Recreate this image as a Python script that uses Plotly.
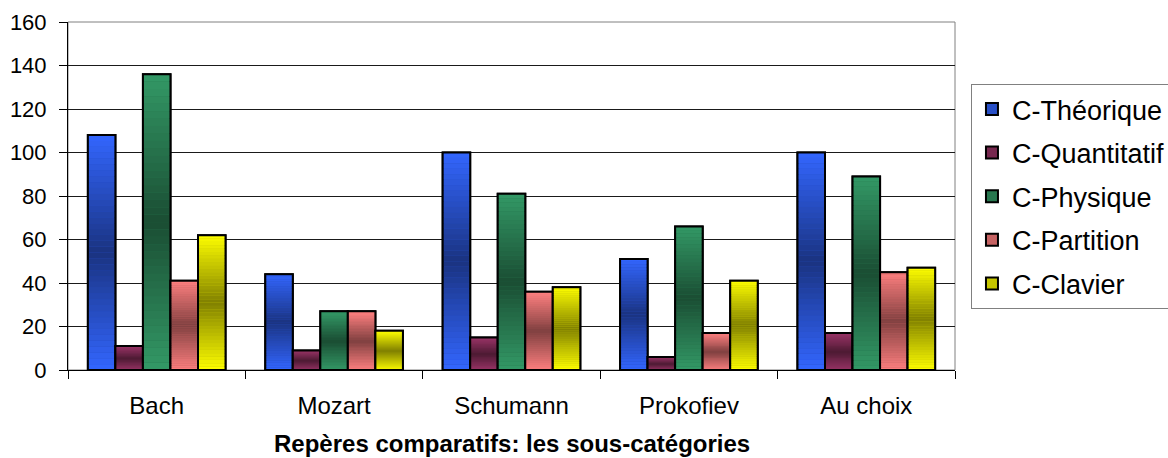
import plotly.graph_objects as go

# --- data -------------------------------------------------------------
categories = ["Bach", "Mozart", "Schumann", "Prokofiev", "Au choix"]
series_names = ["C-Théorique", "C-Quantitatif", "C-Physique", "C-Partition", "C-Clavier"]

theorique = [108, 44, 100, 51, 100]
quantitatif = [11, 9, 15, 6, 17]
physique = [136, 27, 81, 66, 89]
partition = [41, 27, 36, 17, 45]
clavier = [62, 18, 38, 41, 47]

y_tick_values = [0, 20, 40, 60, 80, 100, 120, 140, 160]

series_values = [theorique, quantitatif, physique, partition, clavier]

x_title = "Repères comparatifs: les sous-catégories"

# --- styling ----------------------------------------------------------
EDGE = ["#3366FF", "#993366", "#339966", "#FF8080", "#FFFF00"]     # top / bottom of each bar
CENTRE = ["#1A3380", "#4D1A33", "#1A4D33", "#804040", "#808000"]   # middle of each bar
N_BANDS = 40
FONT = "Liberation Sans, Arial, sans-serif"


def hex_to_rgb(h):
    h = h.lstrip("#")
    return tuple(int(h[i:i + 2], 16) for i in (0, 2, 4))


def mix(c1, c2, w):
    a, b = hex_to_rgb(c1), hex_to_rgb(c2)
    r, g, bl = (round(a[i] * (1 - w) + b[i] * w) for i in range(3))
    return f"rgb({r},{g},{bl})"


fig = go.Figure()

for name, values, edge, centre in zip(series_names, series_values, EDGE, CENTRE):
    # full bar: carries the legend entry
    fig.add_trace(go.Bar(
        x=categories, y=values, name=name,
        offsetgroup=name, legendgroup=name,
        marker=dict(color=mix(edge, centre, 0.45), line=dict(color="black", width=2)),
        hoverinfo="skip",
    ))
    # vertical "from centre" gradient built from bands of each bar
    for k in range(N_BANDS):
        t = (k + 0.5) / N_BANDS
        d = 1 - abs(2 * t - 1)
        fig.add_trace(go.Bar(
            x=categories,
            y=[v / N_BANDS for v in values],
            base=[v * k / N_BANDS for v in values],
            offsetgroup=name, legendgroup=name, showlegend=False,
            marker=dict(color=mix(edge, centre, d), line=dict(width=0)),
            hoverinfo="skip",
        ))
    # outline on top
    fig.add_trace(go.Bar(
        x=categories, y=values, name=name,
        offsetgroup=name, legendgroup=name, showlegend=False,
        marker=dict(color="rgba(255,255,255,0)", line=dict(color="#000000", width=2)),
        hovertemplate=name + " - %{x}: %{y}<extra></extra>",
    ))

fig.update_layout(
    width=1168, height=458,
    margin=dict(l=68, r=213, t=22, b=88, autoexpand=False),
    paper_bgcolor="white", plot_bgcolor="white",
    barmode="group", bargap=0.224, bargroupgap=0,
    font=dict(family=FONT, color="black", size=22),
    showlegend=True,
    legend=dict(
        x=1.018, xanchor="left", y=0.822, yanchor="top",
        traceorder="grouped", tracegroupgap=5.5,
        font=dict(family=FONT, size=27, color="black"),
        bordercolor="#808080", borderwidth=1, bgcolor="white",
    ),
    xaxis=dict(
        type="category", automargin=False,
        showline=True, linecolor="black", linewidth=1,
        ticks="outside", ticklen=8, tickcolor="black", tickson="boundaries",
        ticklabelstandoff=14,
        showgrid=False,
        tickfont=dict(family=FONT, size=24, color="black"),
    ),
    yaxis=dict(
        range=[0, 160], tickvals=y_tick_values, automargin=False,
        showline=True, linecolor="black", linewidth=1,
        ticks="outside", ticklen=8, tickcolor="black",
        ticklabelstandoff=8,
        showgrid=True, gridcolor="#1a1a1a", gridwidth=1,
        zeroline=False,
        tickfont=dict(family=FONT, size=22, color="black"),
    ),
    shapes=[dict(
        type="rect", xref="x domain", yref="y domain",
        x0=0, x1=1, y0=0, y1=1,
        line=dict(color="#808080", width=1), layer="below",
    )],
    annotations=[dict(
        text=f"<b>{x_title}</b>", showarrow=False,
        xref="x domain", yref="y domain", x=0.5, y=-0.212,
        xanchor="center", yanchor="middle",
        font=dict(family=FONT, size=24, color="black"),
    )],
)

fig.write_html("out.html")
